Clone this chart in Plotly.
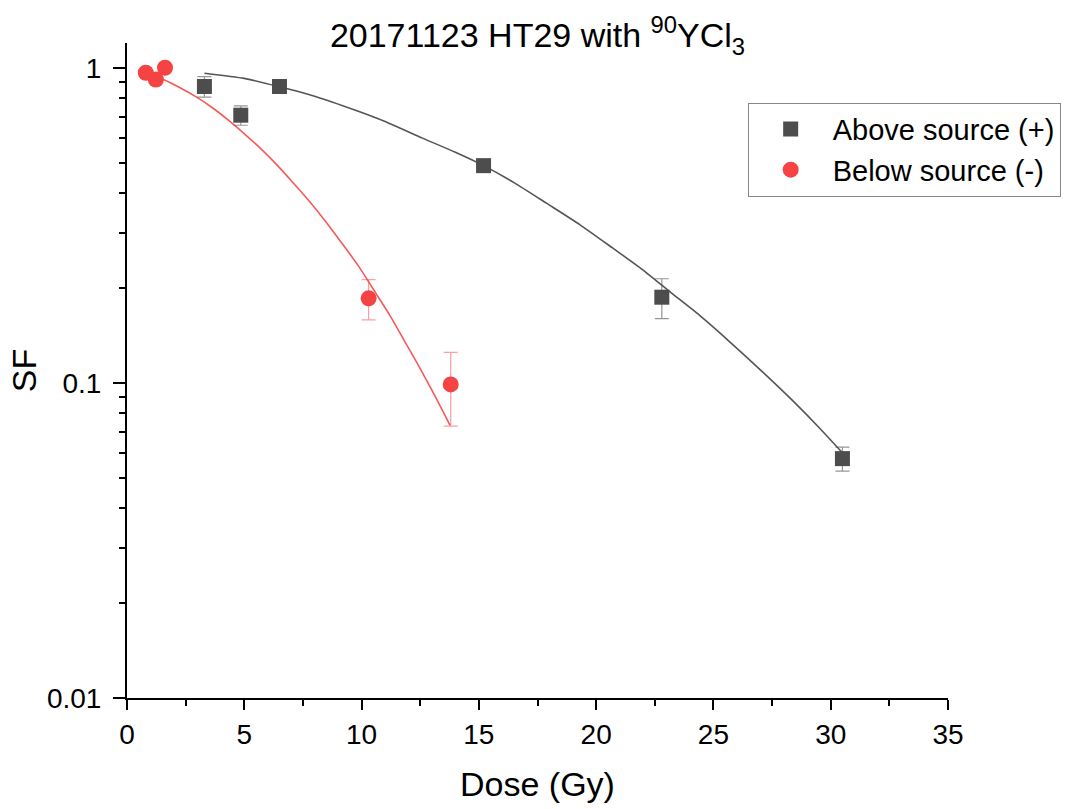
import plotly.graph_objects as go

# Above source (+)
above_dose = [3.3, 4.85, 6.5, 15.2, 22.8, 30.5]
above_sf = [0.872, 0.707, 0.872, 0.489, 0.187, 0.0575]
above_err = [0.065, 0.05, 0.02, 0.01, 0.027, 0.005]

# Below source (-)
below_dose = [0.8, 1.23, 1.62, 10.3, 13.8]
below_sf = [0.964, 0.917, 1.0, 0.1855, 0.0989]
below_err = [0.0, 0.0, 0.0, 0.027, 0.026]

# Fitted curves
fit_above_dose = [3.3, 5.0, 6.5, 8.0, 9.8, 11.0, 12.6, 14.0, 15.2, 16.5, 17.9,
                  19.3, 20.7, 22.0, 23.2, 24.4, 25.6, 27.0, 28.4, 29.5, 30.5]
fit_above_sf = [0.961, 0.925, 0.870, 0.812, 0.730, 0.675, 0.598, 0.539, 0.489, 0.432, 0.371,
                0.318, 0.268, 0.228, 0.193, 0.164, 0.137, 0.110, 0.0875, 0.0722, 0.060]
fit_below_dose = [0.8, 1.55, 2.2, 3.0, 3.7, 4.4, 5.1, 5.8, 6.4, 7.1, 7.8, 8.5,
                  9.2, 9.9, 10.6, 11.2, 11.8, 12.4, 13.1, 13.77]
fit_below_sf = [0.962, 0.917, 0.869, 0.804, 0.741, 0.674, 0.608, 0.545, 0.491, 0.430,
                0.375, 0.323, 0.275, 0.233, 0.193, 0.164, 0.137, 0.1145, 0.0917, 0.0733]

gray = "#4d4d4d"
red = "#f54242"
font = "Liberation Sans, Arial, sans-serif"

fig = go.Figure()

fig.add_trace(go.Scatter(x=fit_above_dose, y=fit_above_sf, mode="lines",
                         line=dict(color="#555555", width=1.6, shape="spline", smoothing=0.6),
                         showlegend=False, hoverinfo="skip"))
fig.add_trace(go.Scatter(x=fit_below_dose, y=fit_below_sf, mode="lines",
                         line=dict(color="#f55a5a", width=1.6, shape="spline", smoothing=0.6),
                         showlegend=False, hoverinfo="skip"))

fig.add_trace(go.Scatter(x=above_dose, y=above_sf, mode="markers",
                         name="Above source (+)",
                         marker=dict(symbol="square", size=15, color=gray),
                         error_y=dict(type="data", array=above_err, visible=True,
                                      color="rgba(80,80,80,0.6)", thickness=1.2, width=7)))
fig.add_trace(go.Scatter(x=below_dose, y=below_sf, mode="markers",
                         name="Below source (-)",
                         marker=dict(symbol="circle", size=16, color=red),
                         error_y=dict(type="data", array=below_err, visible=True,
                                      color="rgba(245,66,66,0.5)", thickness=1.2, width=7)))

fig.update_layout(
    width=1075, height=809,
    margin=dict(l=127, r=127, t=43, b=104),
    paper_bgcolor="white", plot_bgcolor="white",
    font=dict(family=font, color="black"),
    title=dict(text="20171123 HT29 with <sup>90</sup>YCl<sub>3</sub>",
               x=0.5, xref="paper", xanchor="center", y=0.956, yanchor="middle",
               font=dict(size=34, color="black")),
    legend=dict(x=0.756, y=0.909, xanchor="left", yanchor="top",
                bordercolor="#888888", borderwidth=1, bgcolor="white",
                font=dict(size=29, color="black"), tracegroupgap=0, itemwidth=74),
    showlegend=True,
)

fig.update_xaxes(range=[0, 35], dtick=5, tick0=0, showgrid=False, zeroline=False,
                 showline=True, linecolor="black", linewidth=2,
                 ticks="outside", ticklen=10, tickwidth=1.5, tickcolor="black",
                 tickfont=dict(size=28),
                 minor=dict(ticks="outside", ticklen=6, tickwidth=1.5, tickcolor="black", dtick=2.5, showgrid=False),
                 title=dict(text="Dose (Gy)", font=dict(size=34), standoff=24))
fig.update_yaxes(type="log", range=[-2, 0.0785], dtick=1,
                 tickvals=[0.01, 0.1, 1], ticktext=["0.01", "0.1", "1"],
                 showgrid=False, zeroline=False,
                 showline=True, linecolor="black", linewidth=2,
                 ticks="outside", ticklen=12, tickwidth=1.5, tickcolor="black",
                 tickfont=dict(size=28), ticklabelstandoff=6,
                 minor=dict(ticks="outside", ticklen=6, tickwidth=1.5, tickcolor="black",
                            tickvals=[0.02, 0.03, 0.04, 0.05, 0.06, 0.07, 0.08, 0.09,
                                      0.2, 0.3, 0.4, 0.5, 0.6, 0.7, 0.8, 0.9], showgrid=False),
                 title=dict(text="SF", font=dict(size=34), standoff=0))

fig.write_html("out.html")
